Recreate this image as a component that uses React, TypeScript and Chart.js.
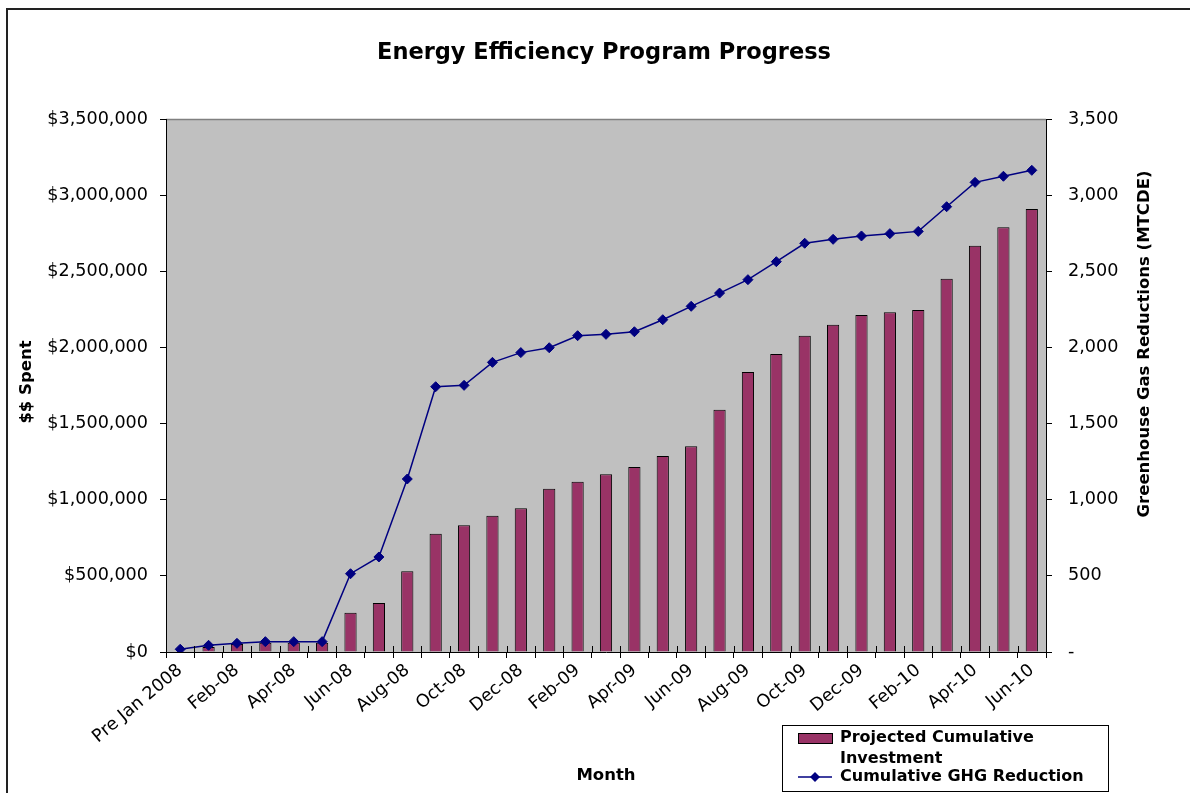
import React, { useEffect, useRef } from 'react';
import { Chart, registerables } from 'chart.js';

Chart.register(...registerables);

const categories = [
  'Pre Jan 2008',
  'Jan-08', 'Feb-08', 'Mar-08', 'Apr-08', 'May-08', 'Jun-08', 'Jul-08', 'Aug-08', 'Sep-08', 'Oct-08', 'Nov-08', 'Dec-08',
  'Jan-09', 'Feb-09', 'Mar-09', 'Apr-09', 'May-09', 'Jun-09', 'Jul-09', 'Aug-09', 'Sep-09', 'Oct-09', 'Nov-09', 'Dec-09',
  'Jan-10', 'Feb-10', 'Mar-10', 'Apr-10', 'May-10', 'Jun-10',
];

const shownLabels = [
  'Pre Jan 2008', 'Feb-08', 'Apr-08', 'Jun-08', 'Aug-08', 'Oct-08', 'Dec-08',
  'Feb-09', 'Apr-09', 'Jun-09', 'Aug-09', 'Oct-09', 'Dec-09', 'Feb-10', 'Apr-10', 'Jun-10',
];

const investment = [
  0, 33000, 53000, 61000, 61000, 61000, 258000, 322000, 530000, 777000, 832000, 895000, 944000,
  1072000, 1118000, 1167000, 1215000, 1287000, 1351000, 1591000, 1839000, 1957000, 2077000, 2149000, 2213000,
  2231000, 2246000, 2451000, 2668000, 2789000, 2909000,
];

const ghg = [
  18, 44, 57, 68, 68, 68, 514, 624, 1136, 1742, 1751, 1902, 1966,
  1998, 2077, 2086, 2103, 2182, 2270, 2357, 2445, 2563, 2684, 2710, 2732,
  2747, 2762, 2924, 3084, 3124, 3163,
];

const titleText = 'Energy Efficiency Program Progress';
const xTitle = 'Month';
const yTitle = '$$ Spent';
const y1Title = 'Greenhouse Gas Reductions (MTCDE)';
const barLegendLines = ['Projected Cumulative', 'Investment'];
const lineLegend = 'Cumulative GHG Reduction';

const W = 1190;
const H = 793;
const FONT = "'DejaVu Sans', sans-serif";
const BAR_COLOR = '#993366';
const LINE_COLOR = '#000080';

const decor = {
  id: 'decor',
  beforeDraw(chart: any) {
    const { ctx, chartArea: a } = chart;
    ctx.save();
    ctx.fillStyle = '#ffffff';
    ctx.fillRect(0, 0, W, H);
    ctx.fillStyle = '#C0C0C0';
    ctx.fillRect(a.left, a.top, a.right - a.left, a.bottom - a.top);
    ctx.strokeStyle = '#808080';
    ctx.lineWidth = 1.5;
    ctx.beginPath();
    ctx.moveTo(a.left, a.top + 0.5);
    ctx.lineTo(a.right, a.top + 0.5);
    ctx.stroke();
    ctx.restore();
  },
  afterDraw(chart: any) {
    const { ctx, chartArea: a } = chart;
    const xs = chart.scales.x;
    ctx.save();
    // inner half of x-axis tick marks at category boundaries
    ctx.strokeStyle = '#000';
    ctx.lineWidth = 1;
    const n = categories.length;
    const step = (xs.getPixelForValue(1) - xs.getPixelForValue(0));
    for (let i = 0; i <= n; i++) {
      const x = Math.round(xs.getPixelForValue(0) - step / 2 + i * step) + 0.5;
      ctx.beginPath();
      ctx.moveTo(x, a.bottom - 6);
      ctx.lineTo(x, a.bottom);
      ctx.stroke();
    }
    // outer border
    ctx.strokeStyle = '#222';
    ctx.lineWidth = 2;
    ctx.beginPath();
    ctx.moveTo(7, H + 2);
    ctx.lineTo(7, 9);
    ctx.lineTo(W + 2, 9);
    ctx.stroke();

    ctx.fillStyle = '#000';
    // title
    ctx.font = `bold 22.5px ${FONT}`;
    ctx.textAlign = 'center';
    ctx.textBaseline = 'alphabetic';
    ctx.fillText(titleText, 604, 58.5);

    // axis titles
    ctx.font = `bold 16.5px ${FONT}`;
    ctx.textBaseline = 'middle';
    ctx.fillText(xTitle, 606, 776);
    ctx.save();
    ctx.translate(27, 382);
    ctx.rotate(-Math.PI / 2);
    ctx.fillText(yTitle, 0, 0);
    ctx.restore();
    ctx.save();
    ctx.translate(1145, 344);
    ctx.rotate(-Math.PI / 2);
    ctx.fillText(y1Title, 0, 0);
    ctx.restore();

    // legend
    const lx = 782, ly = 725, lw = 326, lh = 66;
    ctx.fillStyle = '#fff';
    ctx.fillRect(lx, ly, lw, lh);
    ctx.strokeStyle = '#000';
    ctx.lineWidth = 1;
    ctx.strokeRect(lx + 0.5, ly + 0.5, lw, lh);
    ctx.fillStyle = BAR_COLOR;
    ctx.fillRect(798, 733, 34, 10);
    ctx.strokeRect(798.5, 733.5, 34, 10);
    ctx.strokeStyle = LINE_COLOR;
    ctx.lineWidth = 1.5;
    ctx.beginPath();
    ctx.moveTo(798, 777);
    ctx.lineTo(832, 777);
    ctx.stroke();
    ctx.fillStyle = LINE_COLOR;
    ctx.beginPath();
    ctx.moveTo(815, 772);
    ctx.lineTo(820, 777);
    ctx.lineTo(815, 782);
    ctx.lineTo(810, 777);
    ctx.closePath();
    ctx.fill();
    ctx.fillStyle = '#000';
    ctx.font = `bold 16px ${FONT}`;
    ctx.textAlign = 'left';
    ctx.textBaseline = 'middle';
    ctx.fillText(barLegendLines[0], 840, 738);
    ctx.fillText(barLegendLines[1], 840, 759);
    ctx.fillText(lineLegend, 840, 777);
    ctx.restore();
  },
};

export default function App() {
  const ref = useRef<HTMLCanvasElement>(null);
  useEffect(() => {
    const canvas = ref.current;
    if (!canvas) return;
    Chart.defaults.font.family = FONT;
    Chart.defaults.color = '#000';
    const chart = new Chart(canvas, {
      type: 'bar',
      data: {
        labels: categories,
        datasets: [
          {
            type: 'line',
            label: 'Cumulative GHG Reduction',
            data: ghg,
            yAxisID: 'y1',
            borderColor: LINE_COLOR,
            backgroundColor: LINE_COLOR,
            borderWidth: 1.5,
            pointStyle: 'rectRot',
            pointRadius: 5,
            pointBackgroundColor: LINE_COLOR,
            pointBorderColor: LINE_COLOR,
            pointBorderWidth: 1,
            tension: 0,
            fill: false,
            order: 1,
          } as any,
          {
            type: 'bar',
            label: 'Projected Cumulative Investment',
            data: investment,
            yAxisID: 'y',
            backgroundColor: BAR_COLOR,
            borderColor: '#000',
            borderWidth: 1,
            barPercentage: 0.43,
            categoryPercentage: 1,
            order: 2,
          } as any,
        ],
      },
      options: {
        responsive: false,
        animation: false,
        layout: { padding: { top: 119, left: 0, right: 0, bottom: 0 } },
        plugins: {
          legend: { display: false },
          title: { display: false },
          tooltip: { enabled: false },
        },
        scales: {
          x: {
            offset: true,
            grid: { offset: true, drawOnChartArea: false, drawTicks: true, tickLength: 6, tickColor: '#000', tickWidth: 1 },
            border: { color: '#000', width: 1 },
            ticks: {
              autoSkip: false,
              maxRotation: 40,
              minRotation: 40,
              padding: 2,
              color: '#000',
              font: { size: 17.6, family: FONT },
              callback: (_v: any, i: number) => (shownLabels.includes(categories[i]) ? categories[i] : ''),
            },
            afterFit: (s: any) => { s.height = H - 652; },
          },
          y: {
            position: 'left',
            min: 0,
            max: 3500000,
            grid: { drawOnChartArea: false, drawTicks: true, tickLength: 6, tickColor: '#000' },
            border: { color: '#000', width: 1 },
            ticks: {
              stepSize: 500000,
              padding: 12,
              color: '#000',
              font: { size: 17.6, family: FONT },
              callback: (v: any) => '$' + Number(v).toLocaleString('en-US'),
            },
            afterFit: (s: any) => { s.width = 166; },
          },
          y1: {
            position: 'right',
            min: 0,
            max: 3500,
            grid: { drawOnChartArea: false, drawTicks: true, tickLength: 6, tickColor: '#000' },
            border: { color: '#000', width: 1 },
            ticks: {
              stepSize: 500,
              padding: 16,
              color: '#000',
              font: { size: 17.6, family: FONT },
              callback: (v: any) => (Number(v) === 0 ? '-' : Number(v).toLocaleString('en-US')),
            },
            afterFit: (s: any) => { s.width = W - 1046; },
          },
        },
      },
      plugins: [decor],
    });
    return () => chart.destroy();
  }, []);

  return (
    <div style={{ position: 'absolute', left: 0, top: 0, width: W, height: H }}>
      <canvas ref={ref} width={W} height={H} style={{ display: 'block' }} />
    </div>
  );
}
